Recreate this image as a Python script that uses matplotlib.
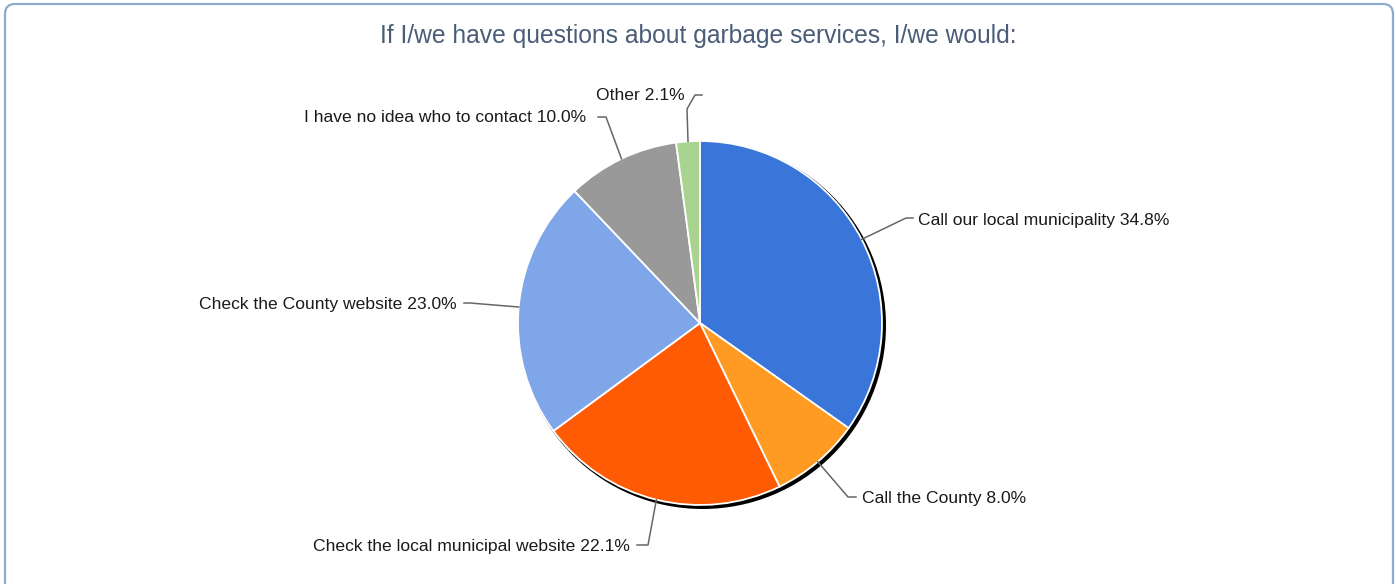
import matplotlib
matplotlib.use("Agg")
import matplotlib.pyplot as plt
from matplotlib.patches import Circle, FancyBboxPatch
import numpy as np

plt.rcParams["font.family"] = ["Liberation Sans", "DejaVu Sans"]

title = "If I/we have questions about garbage services, I/we would:"
categories = [
    "Call our local municipality",
    "Call the County",
    "Check the local municipal website",
    "Check the County website",
    "I have no idea who to contact",
    "Other",
]
shares = [34.8, 8.0, 22.1, 23.0, 10.0, 2.1]
colors = ["#3a76d9", "#ff9a22", "#ff5a04", "#7fa6e8", "#999999", "#a8d48f"]

# label layout in pixel space: (elbow, end of tick, text x, text y, align)
label_layout = [
    ((906, 218), (913, 218), 918, 220, "left"),
    ((848, 497), (856, 497), 862, 499, "left"),
    ((648, 545), (637, 545), 630, 546, "right"),
    ((470, 303), (464, 303), 457, 304, "right"),
    ((606, 117), (598, 117), 586, 118, "right"),
    ((695, 95), (702, 95), 685, 96, "right"),
]

W, H = 1396, 584
cx, cy, R = 700, 323, 182

fig = plt.figure(figsize=(W / 100, H / 100), dpi=100)
ax = fig.add_axes([0, 0, 1, 1])

# outer frame, runs off the bottom edge
frame = FancyBboxPatch((5, -20), W - 8, H - 4 + 20,
                       boxstyle="round,pad=0,rounding_size=10",
                       fc="white", ec="#8eaacc", lw=1.6, zorder=0)
ax.add_patch(frame)

# drop shadow behind the pie
ax.add_patch(Circle((cx + 2.5, H - cy - 2.5), R + 1.5, fc="black", ec="none", zorder=1))

wedges, _ = ax.pie(shares, colors=colors, startangle=90, counterclock=False,
                   center=(cx, H - cy), radius=R, frame=True,
                   wedgeprops=dict(edgecolor="white", linewidth=1.3))
for w in wedges:
    w.set_zorder(2)
ax.set_xlim(0, W)
ax.set_ylim(0, H)
ax.set_aspect("equal")
ax.axis("off")

cum = np.cumsum([0] + shares[:-1])
for name, val, c0, (elbow, tick, tx, ty, ha) in zip(categories, shares, cum, label_layout):
    ang = np.deg2rad(90 - (c0 + val / 2) / 100 * 360)
    sx = cx + R * np.cos(ang)
    sy = H - (cy - R * np.sin(ang))
    if name == "Other":
        path_x = [sx, sx - 1, elbow[0], tick[0]]
        path_y = [sy, H - 109, H - elbow[1], H - tick[1]]
    else:
        path_x = [sx, elbow[0], tick[0]]
        path_y = [sy, H - elbow[1], H - tick[1]]
    ax.plot(path_x, path_y, color="#666666", lw=1.1, zorder=3)
    ax.text(tx, H - ty, f"{name} {val:.1f}%", ha=ha, va="center",
            fontsize=12.6, color="#1a1a1a", zorder=4)

ax.text(W / 2, H - 36, title, ha="center", va="center", fontsize=17.7,
        color="#4a5d78")

fig.savefig("out.png", dpi=100)
